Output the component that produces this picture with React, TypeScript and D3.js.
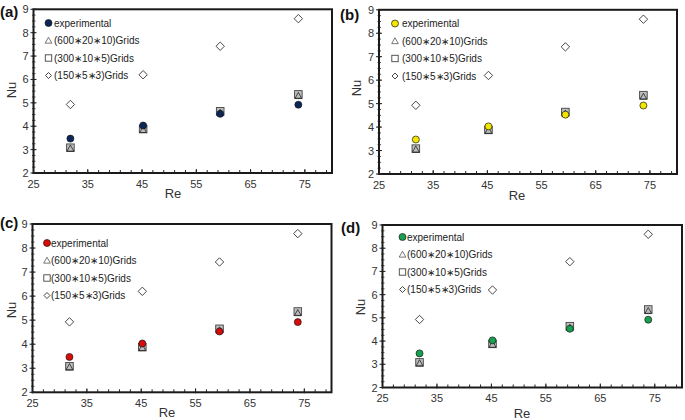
import React from "react";
import * as d3 from "d3";

const reValues = [31.8, 45.2, 59.4, 73.8];
const nuExperimental = [3.47, 4.03, 4.53, 4.92];
const nuGrid600 = [3.05, 3.85, 4.58, 5.3];
const nuGrid300 = [3.08, 3.88, 4.64, 5.36];
const nuGrid150 = [4.93, 6.2, 7.42, 8.6];
const xTicks = [25, 35, 45, 55, 65, 75];
const yTicks = [2, 3, 4, 5, 6, 7, 8, 9];
const legendLabels = ["experimental", "(600\u221720\u221710)Grids", "(300\u221710\u22175)Grids", "(150\u22175\u22173)Grids"];
const panelTags = ["(a)", "(b)", "(c)", "(d)"];
const expColors = ["#0c2658", "#f2e600", "#dd0a0a", "#16a050"];

type Layout = {
  left: number; right: number; top: number; bottom: number;
  tagX: number; tagY: number;
  nuX: number; nuY: number; reX: number; reY: number;
  legX: number; legTextX: number; legY: number; legDy: number;
};

const layouts: Layout[] = [
  { left: 33.5, right: 332, top: 9.3, bottom: 173, tagX: 0, tagY: 17, nuX: 11, nuY: 90, reX: 173, reY: 198, legX: 48.5, legTextX: 53, legY: 23, legDy: 17.5 },
  { left: 379, right: 677, top: 9.8, bottom: 174, tagX: 340, tagY: 20, nuX: 356, nuY: 88, reX: 517, reY: 200, legX: 395, legTextX: 401, legY: 23.5, legDy: 17.5 },
  { left: 32.5, right: 331.5, top: 224, bottom: 392.3, tagX: 0, tagY: 228, nuX: 11, nuY: 310, reX: 167, reY: 416.5, legX: 47, legTextX: 50, legY: 243, legDy: 17.5 },
  { left: 382.5, right: 682, top: 225, bottom: 387.5, tagX: 341, tagY: 233, nuX: 360, nuY: 307, reX: 522, reY: 418, legX: 402.5, legTextX: 406, legY: 237, legDy: 17.5 },
];

const font = "'Liberation Sans', Arial, sans-serif";
const ink = "#222";

function Marker({ kind, x, y, color, legend }: { kind: number; x: number; y: number; color: string; legend?: boolean }) {
  if (kind === 0) {
    return <circle cx={x} cy={y} r={3.5} fill={color} stroke="#1a1a1a" strokeWidth={0.7} />;
  }
  if (kind === 1) {
    const s = legend ? 3.3 : 3.4;
    const path = `M${x},${y - s}L${x + s},${y + s * 0.8}L${x - s},${y + s * 0.8}Z`;
    return <path d={path} fill="none" stroke={legend ? "#555" : "#222"} strokeWidth={0.8} />;
  }
  if (kind === 2) {
    const s = legend ? 3.2 : 3.8;
    return <rect x={x - s} y={y - s} width={2 * s} height={2 * s} fill={legend ? "white" : "#bdbdbd"} stroke="#444" strokeWidth={0.9} />;
  }
  const s = legend ? 3 : 4.2;
  const path = `M${x},${y - s}L${x + s},${y}L${x},${y + s}L${x - s},${y}Z`;
  return <path d={path} fill="white" stroke="#333" strokeWidth={0.9} />;
}

function Panel({ idx }: { idx: number }) {
  const L = layouts[idx];
  const x = d3.scaleLinear().domain([25, 80]).range([L.left, L.right]);
  const y = d3.scaleLinear().domain([2, 9]).range([L.bottom, L.top]);
  const xMinor = d3.range(25, 80.01, 2);
  const yMinor = d3.range(2, 9.001, 0.25);
  const series = [nuExperimental, nuGrid600, nuGrid300, nuGrid150];
  const drawOrder = [3, 2, 1, 0];
  return (
    <g>
      <text x={L.tagX} y={L.tagY} fontSize={15} fontWeight="bold" fontFamily={font} fill="#111">{panelTags[idx]}</text>
      <rect x={L.left} y={L.top} width={L.right - L.left} height={L.bottom - L.top} fill="white" stroke="#1a1a1a" strokeWidth={2} />
      {xMinor.map((t) => (
        <line key={"xm" + t} x1={x(t)} x2={x(t)} y1={L.bottom} y2={L.bottom - 3} stroke={ink} strokeWidth={1} />
      ))}
      {xTicks.map((t) => (
        <g key={"x" + t}>
          <line x1={x(t)} x2={x(t)} y1={L.bottom + 1} y2={L.bottom - 4} stroke={ink} strokeWidth={1} />
          <text x={x(t)} y={L.bottom + 14.5} textAnchor="middle" fontSize={11} fontFamily={font} fill="#333">{t}</text>
        </g>
      ))}
      {yMinor.map((t) => (
        <line key={"ym" + t} x1={L.left - 1.5} x2={L.left + 2} y1={y(t)} y2={y(t)} stroke={ink} strokeWidth={0.8} />
      ))}
      {yTicks.map((t) => (
        <g key={"y" + t}>
          <line x1={L.left - 3} x2={L.left + 3} y1={y(t)} y2={y(t)} stroke={ink} strokeWidth={1} />
          <text x={L.left - 5} y={y(t) + 4} textAnchor="end" fontSize={11} fontFamily={font} fill="#333">{t}</text>
        </g>
      ))}
      <text x={L.reX} y={L.reY} textAnchor="middle" fontSize={13} fontFamily={font} fill="#333">Re</text>
      <text transform={`translate(${L.nuX},${L.nuY}) rotate(-90)`} textAnchor="middle" dy={4.5} fontSize={13} fontFamily={font} fill="#333">Nu</text>
      {drawOrder.map((k) =>
        series[k].map((v, i) => (
          <Marker key={`m${k}-${i}`} kind={k} x={x(reValues[i])} y={y(v)} color={expColors[idx]} />
        ))
      )}
      {legendLabels.map((lab, k) => (
        <g key={"l" + k}>
          <Marker kind={k} x={L.legX} y={L.legY + k * L.legDy} color={expColors[idx]} legend />
          <text x={L.legTextX + 1} y={L.legY + k * L.legDy + 3.5} fontSize={10} fontFamily={font} fill="#222">{lab}</text>
        </g>
      ))}
    </g>
  );
}

export default function App() {
  return (
    <svg width={685} height={420} style={{ position: "fixed", left: 0, top: 0, background: "white" }}>
      <rect width={685} height={420} fill="white" />
      {[0, 1, 2, 3].map((i) => (
        <Panel key={i} idx={i} />
      ))}
    </svg>
  );
}
